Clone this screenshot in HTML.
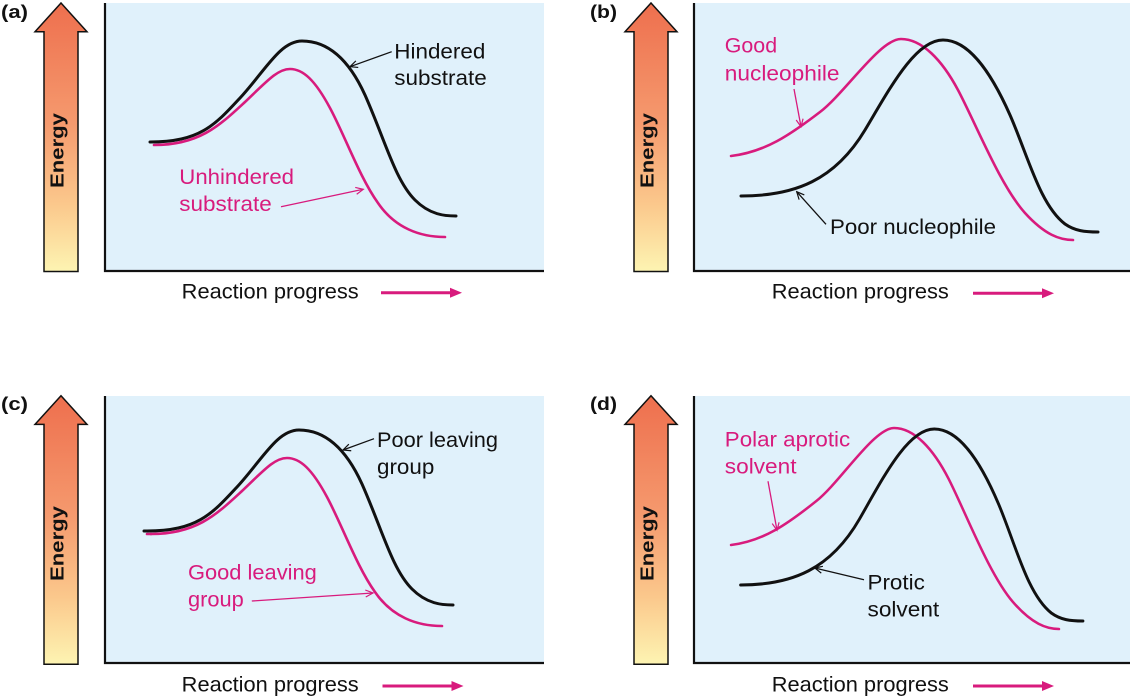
<!DOCTYPE html>
<html><head><meta charset="utf-8"><style>
html,body{margin:0;padding:0;background:#fff;}
svg{display:block;}
text{font-family:"Liberation Sans",sans-serif;}
</style></head><body>
<svg width="1130" height="697" viewBox="0 0 1130 697" xmlns="http://www.w3.org/2000/svg">
<defs>
<linearGradient id="eg" x1="0" y1="0" x2="0" y2="1">
<stop offset="0" stop-color="#ee6f4e"/>
<stop offset="0.45" stop-color="#f59a6e"/>
<stop offset="0.75" stop-color="#fbc88c"/>
<stop offset="1" stop-color="#fdf4b2"/>
</linearGradient>
<marker id="hk" markerWidth="12" markerHeight="12" refX="9" refY="5" orient="auto" markerUnits="userSpaceOnUse"><path d="M1.5,1.5 L9,5 L1.5,8.5" fill="none" stroke="#111" stroke-width="1.2"/></marker>
<marker id="hm" markerWidth="12" markerHeight="12" refX="9" refY="5" orient="auto" markerUnits="userSpaceOnUse"><path d="M1.5,1.5 L9,5 L1.5,8.5" fill="none" stroke="#d81b7d" stroke-width="1.2"/></marker>
<path id="AB" d="M150,142 C200,142 215,125 240,98 C265,71 280,41 302,41 C330,41 350,62 365,95 C385,140 395,180 415,200 C430,215 445,216 456,216"/>
<path id="AM" d="M154,145 C200,145 220,125 245,102 C268,80 278,69 290,69 C303,69 315,80 330,108 C345,136 360,178 378,203 C395,228 420,237 445,237"/>
<path id="BM" d="M731,156 C765,152 790,135 820,112 C845,93 880,39 901,39 C922,39 942,60 958,90 C976,124 1000,185 1025,213 C1045,235 1060,240 1073,240"/>
<path id="BB" d="M741,196 C795,196 835,180 865,130 C889,90 915,40 943,40 C968,40 990,70 1010,115 C1028,156 1040,205 1065,224 C1075,231 1085,232 1098,232"/>
<polygon id="EA" points="44,271.5 44,31.7 35,31.7 61,3 87,31.7 78,31.7 78,271.5" fill="url(#eg)" stroke="#111" stroke-width="1.5" stroke-linejoin="miter"/>
</defs>

<!-- Plot boxes -->
<rect x="105" y="3" width="439" height="268" fill="#e0f1fb"/>
<rect x="694" y="3" width="436" height="268" fill="#e0f1fb"/>
<rect x="105" y="396" width="439" height="267" fill="#e0f1fb"/>
<rect x="694" y="396" width="436" height="267" fill="#e0f1fb"/>
<g stroke="#111" stroke-width="2.2" fill="none">
<path d="M105,3 L105,271 L544,271"/>
<path d="M694,3 L694,271 L1130,271"/>
<path d="M105,396 L105,663 L544,663"/>
<path d="M694,396 L694,663 L1130,663"/>
</g>

<!-- Energy arrows -->
<use href="#EA"/>
<use href="#EA" transform="translate(590,0)"/>
<use href="#EA" transform="translate(0,392.7)"/>
<use href="#EA" transform="translate(590,392.7)"/>
<g font-weight="bold" font-size="18" fill="#111" text-anchor="middle">
<text transform="translate(63.5,150.5) rotate(-90)" textLength="75" lengthAdjust="spacingAndGlyphs">Energy</text>
<text transform="translate(653.5,150.5) rotate(-90)" textLength="75" lengthAdjust="spacingAndGlyphs">Energy</text>
<text transform="translate(63.5,543.5) rotate(-90)" textLength="75" lengthAdjust="spacingAndGlyphs">Energy</text>
<text transform="translate(653.5,543.5) rotate(-90)" textLength="75" lengthAdjust="spacingAndGlyphs">Energy</text>
</g>

<!-- Panel letters -->
<g font-weight="bold" font-size="18.5" fill="#111">
<text x="1" y="18" textLength="27" lengthAdjust="spacingAndGlyphs">(a)</text>
<text x="590" y="18" textLength="27" lengthAdjust="spacingAndGlyphs">(b)</text>
<text x="1" y="410" textLength="27" lengthAdjust="spacingAndGlyphs">(c)</text>
<text x="590" y="410" textLength="27" lengthAdjust="spacingAndGlyphs">(d)</text>
</g>

<!-- Curves -->
<g fill="none" stroke-linecap="round">
<use href="#AB" stroke="#111" stroke-width="3"/>
<use href="#AM" stroke="#d81b7d" stroke-width="2.6"/>
<use href="#BM" stroke="#d81b7d" stroke-width="2.6"/>
<use href="#BB" stroke="#111" stroke-width="3"/>
<g transform="translate(-3,389)">
<path d="M147,142 L150,142" stroke="#111" stroke-width="3"/>
<use href="#AB" stroke="#111" stroke-width="3"/>
<path d="M150,145 L154,145" stroke="#d81b7d" stroke-width="2.6"/>
<use href="#AM" stroke="#d81b7d" stroke-width="2.6"/>
</g>
<g transform="matrix(0.959,0,0,1,29.97,389)">
<use href="#BM" stroke="#d81b7d" stroke-width="2.6"/>
<use href="#BB" stroke="#111" stroke-width="3"/>
</g>
</g>

<!-- Pointer lines -->
<g fill="none" stroke-width="1.3">
<line x1="391.7" y1="51.7" x2="350" y2="66.7" stroke="#111" marker-end="url(#hk)"/>
<line x1="281" y1="206.7" x2="363.3" y2="189.3" stroke="#d81b7d" marker-end="url(#hm)"/>
<line x1="794" y1="89" x2="801" y2="126.7" stroke="#d81b7d" marker-end="url(#hm)"/>
<line x1="826" y1="224.3" x2="796.7" y2="191.7" stroke="#111" marker-end="url(#hk)"/>
<line x1="374" y1="438.7" x2="343" y2="450" stroke="#111" marker-end="url(#hk)"/>
<line x1="251.8" y1="601" x2="373" y2="593" stroke="#d81b7d" marker-end="url(#hm)"/>
<line x1="768" y1="481.3" x2="777" y2="530.3" stroke="#d81b7d" marker-end="url(#hm)"/>
<line x1="864" y1="579.7" x2="814.8" y2="568" stroke="#111" marker-end="url(#hk)"/>
</g>

<!-- Labels -->
<g font-size="21.5">
<text x="394.3" y="58.3" fill="#111" textLength="91" lengthAdjust="spacingAndGlyphs">Hindered</text>
<text x="394.3" y="85" fill="#111" textLength="92.4" lengthAdjust="spacingAndGlyphs">substrate</text>
<text x="179.3" y="184" fill="#d81b7d" textLength="114.7" lengthAdjust="spacingAndGlyphs">Unhindered</text>
<text x="179.3" y="211" fill="#d81b7d" textLength="92.4" lengthAdjust="spacingAndGlyphs">substrate</text>

<text x="724.8" y="52.7" fill="#d81b7d" textLength="52.3" lengthAdjust="spacingAndGlyphs">Good</text>
<text x="724.8" y="80.5" fill="#d81b7d" textLength="114.7" lengthAdjust="spacingAndGlyphs">nucleophile</text>
<text x="830" y="234" fill="#111" textLength="166" lengthAdjust="spacingAndGlyphs">Poor nucleophile</text>

<text x="377" y="447" fill="#111" textLength="121" lengthAdjust="spacingAndGlyphs">Poor leaving</text>
<text x="377" y="474" fill="#111" textLength="57.3" lengthAdjust="spacingAndGlyphs">group</text>
<text x="188" y="579.7" fill="#d81b7d" textLength="128.8" lengthAdjust="spacingAndGlyphs">Good leaving</text>
<text x="188" y="606.5" fill="#d81b7d" textLength="55.8" lengthAdjust="spacingAndGlyphs">group</text>

<text x="724.8" y="446.3" fill="#d81b7d" textLength="125.4" lengthAdjust="spacingAndGlyphs">Polar aprotic</text>
<text x="724.8" y="473.3" fill="#d81b7d" textLength="71.7" lengthAdjust="spacingAndGlyphs">solvent</text>
<text x="867.5" y="589.3" fill="#111" textLength="57.3" lengthAdjust="spacingAndGlyphs">Protic</text>
<text x="867.5" y="616.5" fill="#111" textLength="71.7" lengthAdjust="spacingAndGlyphs">solvent</text>

<text x="181.7" y="298.5" fill="#111" textLength="177" lengthAdjust="spacingAndGlyphs">Reaction progress</text>
<text x="771.8" y="298.5" fill="#111" textLength="177" lengthAdjust="spacingAndGlyphs">Reaction progress</text>
<text x="181.7" y="691.5" fill="#111" textLength="177" lengthAdjust="spacingAndGlyphs">Reaction progress</text>
<text x="771.8" y="691.5" fill="#111" textLength="177" lengthAdjust="spacingAndGlyphs">Reaction progress</text>
</g>

<!-- Reaction progress arrows -->
<g stroke="#d81b7d" stroke-width="3" fill="#d81b7d">
<line x1="381" y1="292.7" x2="452" y2="292.7"/>
<polygon points="450,287.7 462,292.7 450,297.7" stroke="none"/>
<line x1="973" y1="293.3" x2="1044" y2="293.3"/>
<polygon points="1042,288.3 1054,293.3 1042,298.3" stroke="none"/>
<line x1="382.5" y1="686" x2="453.5" y2="686"/>
<polygon points="451.5,681 463.5,686 451.5,691" stroke="none"/>
<line x1="973" y1="686" x2="1044" y2="686"/>
<polygon points="1042,681 1054,686 1042,691" stroke="none"/>
</g>
</svg>
</body></html>
